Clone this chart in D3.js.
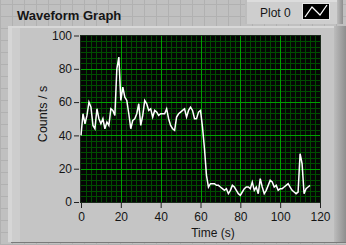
<!DOCTYPE html>
<html>
	<head>
		<meta charset="utf-8" />
		<title>Waveform Graph</title>
		<script src="https://d3js.org/d3.v7.min.js" charset="UTF-8"></script>
		<style>
			body{ margin:0; padding:0; background:#c0c0c0; }
			svg{ display:block; }
			text{ font-family:"Liberation Sans", Arial, sans-serif; fill:#151515; }
		</style>
	</head>
	<body>
		<div id="graph"></div>
		<script>
			// waveform: one sample per second, starting at t0 = 0
			var t0 = 0;
			var dt = 1;
			var counts = [40,53,47,52,60,57,46,44,56,50,47,50,44,48,46,56,55,52,80,87,
				61,69,63,61,53,44,49,50,53,59,46,52,61,59,55,56,51,55,54,52,
				53,53,53,56,50,46,44,43,51,53,54,55,56,51,55,57,55,50,50,54,
				55,45,32,16,9,11,11,11,10,10,9,8,7,8,5,7,10,9,7,5,
				4,6,8,9,9,8,12,7,9,5,14,9,5,7,10,13,12,9,10,7,
				8,8,9,10,11,9,7,6,5,6,29,23,5,8,9,10];
			var xTicks = [0,20,40,60,80,100,120];
			var yTicks = [0,20,40,60,80,100];
			var plotName = "Plot 0";

			var width = 346;
			var height = 245;

			var svg = d3.select("#graph").append("svg").attr("width", width).attr("height", height);
			var defs = svg.append("defs");

			// front panel background grid
			svg.append("rect").attr("width", width).attr("height", height).attr("fill", "#c0c0c0");
			var bg = svg.append("g").attr("stroke", "#b1b1b1").attr("stroke-width", 1);
			bg.selectAll(".vg").data(d3.range(0, width, 12)).enter().append("line")
				.attr("x1", d => d + 0.5).attr("x2", d => d + 0.5).attr("y1", 0).attr("y2", height);
			bg.selectAll(".hg").data(d3.range(4, height, 12)).enter().append("line")
				.attr("y1", d => d + 0.5).attr("y2", d => d + 0.5).attr("x1", 0).attr("x2", width);

			// graph frame
			var rb = defs.append("linearGradient").attr("id", "rbevel");
			rb.append("stop").attr("offset", "0%").attr("stop-color", "#bcbcbc");
			rb.append("stop").attr("offset", "100%").attr("stop-color", "#8e8e8e");
			svg.append("rect").attr("x", 8).attr("y", 26).attr("width", 338).attr("height", 217).attr("fill", "#c5c5c5");
			svg.append("rect").attr("x", 8).attr("y", 26).attr("width", 4).attr("height", 216).attr("fill", "#d6d6d6");
			svg.append("rect").attr("x", 12).attr("y", 28).attr("width", 8).attr("height", 214).attr("fill", "#cdcdcd");
			svg.append("rect").attr("x", 8).attr("y", 26).attr("width", 326).attr("height", 2).attr("fill", "#d8d8d8");
			svg.append("rect").attr("x", 334).attr("y", 26).attr("width", 12).attr("height", 217).attr("fill", "url(#rbevel)");
			svg.append("rect").attr("x", 11).attr("y", 242).attr("width", 335).attr("height", 1).attr("fill", "#7a7a7a");

			// label
			svg.append("text").attr("x", 17).attr("y", 19.5).attr("font-size", "13px").attr("font-weight", "bold").text("Waveform Graph");

			// legend
			svg.append("rect").attr("x", 245).attr("y", 0).attr("width", 92).attr("height", 24).attr("fill", "#cecece");
			svg.append("rect").attr("x", 245).attr("y", 0).attr("width", 92).attr("height", 2).attr("fill", "#dcdcdc");
			svg.append("rect").attr("x", 245).attr("y", 0).attr("width", 2).attr("height", 24).attr("fill", "#bdbdbd");
			svg.append("rect").attr("x", 337).attr("y", 0).attr("width", 6).attr("height", 24).attr("fill", "url(#rbevel)");
			svg.append("text").attr("x", 260).attr("y", 16.5).attr("font-size", "12px").text(plotName);
			svg.append("rect").attr("x", 302.5).attr("y", 3.5).attr("width", 27).attr("height", 16).attr("fill", "#000").attr("stroke", "#e6e6e6");
			svg.append("polyline").attr("points", "305,17 312,7 320,15 327,5").attr("fill", "none").attr("stroke", "#fff").attr("stroke-width", 1.3);

			// scales
			var x = d3.scaleLinear().domain([0, 120]).range([81, 320]);
			var y = d3.scaleLinear().domain([0, 100]).range([202, 35.5]);

			// plot area
			svg.append("rect").attr("x", 80).attr("y", 35).attr("width", 241).attr("height", 168).attr("fill", "#050505");

			var grid = svg.append("g");
			grid.selectAll(".xm").data(d3.range(2.5, 120, 2.5)).enter().append("line")
				.attr("x1", d => Math.round(x(d)) + 0.5).attr("x2", d => Math.round(x(d)) + 0.5)
				.attr("y1", 35).attr("y2", 203).attr("stroke", "#004c00");
			grid.selectAll(".ym").data(d3.range(20 / 6, 99.9, 20 / 6)).enter().append("line")
				.attr("y1", d => Math.round(y(d)) + 0.5).attr("y2", d => Math.round(y(d)) + 0.5)
				.attr("x1", 80).attr("x2", 321).attr("stroke", "#004c00");
			grid.selectAll(".xM").data(xTicks.slice(1, -1)).enter().append("line")
				.attr("x1", d => Math.round(x(d)) + 0.5).attr("x2", d => Math.round(x(d)) + 0.5)
				.attr("y1", 35).attr("y2", 203).attr("stroke", "#00a000");
			grid.selectAll(".yM").data(yTicks.slice(1, -1)).enter().append("line")
				.attr("y1", d => Math.round(y(d)) + 0.5).attr("y2", d => Math.round(y(d)) + 0.5)
				.attr("x1", 80).attr("x2", 321).attr("stroke", "#00a000");
			svg.append("rect").attr("x", 80.5).attr("y", 35.5).attr("width", 240).attr("height", 167)
				.attr("fill", "none").attr("stroke", "#1c2a1c");

			// trace
			var line = d3.line().x((d, i) => x(t0 + i * dt)).y(d => y(d));
			svg.append("path").datum(counts).attr("d", line)
				.attr("fill", "none").attr("stroke", "#ffffff").attr("stroke-width", 1.5);

			// axes
			var yAxis = svg.append("g").attr("transform", "translate(79,0)")
				.call(d3.axisLeft(y).tickValues(yTicks).tickSize(5).tickPadding(2));
			var xAxis = svg.append("g").attr("transform", "translate(0,203)")
				.call(d3.axisBottom(x).tickValues(xTicks).tickSize(5).tickPadding(4));
			[xAxis, yAxis].forEach(function(a){
				a.select(".domain").remove();
				a.selectAll(".tick line").attr("stroke", "#222");
				a.selectAll(".tick text").attr("font-size", "12px").attr("font-family", "Liberation Sans, Arial, sans-serif").attr("fill", "#151515");
			});

			// axis names
			svg.append("text").attr("x", 213).attr("y", 237).attr("text-anchor", "middle").attr("font-size", "12px").text("Time (s)");
			svg.append("text").attr("transform", "translate(47,114) rotate(-90)").attr("text-anchor", "middle").attr("font-size", "12.5px").text("Counts / s");
		</script>
	</body>
</html>
